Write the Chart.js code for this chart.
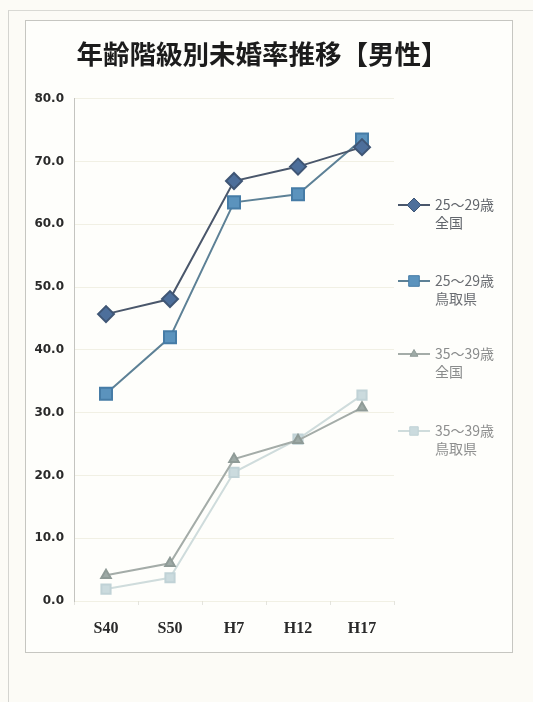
<!DOCTYPE html>
<html lang="ja">
<head>
<meta charset="UTF-8" />
<title>年齢階級別未婚率推移【男性】</title>
<script src="https://cdn.jsdelivr.net/npm/chart.js"></script>
<style>
  html, body { margin: 0; padding: 0; }
  body { width: 533px; height: 702px; background: #fcfbf6; position: relative; overflow: hidden; }
  .scan-edge { position: absolute; left: 8px; top: 10px; right: 0; bottom: 0; border-left: 1px solid #d4d4d0; border-top: 1px solid #d9d9d4; }
  .frame { position: absolute; left: 25px; top: 20px; width: 486px; height: 631px; border: 1px solid #c6c6c1; background: #fefefb; }
  #chart { position: absolute; left: 12px; top: 21px; }
</style>
</head>
<body>
<div class="scan-edge"></div>
<div class="frame"></div>
<canvas id="chart" width="500" height="630"></canvas>

<script>
const years = ['S40', 'S50', 'H7', 'H12', 'H17'];
const yTicks = [0, 10, 20, 30, 40, 50, 60, 70, 80];

// 未婚率 (%)
const national2529 = [45.7, 48.1, 66.9, 69.2, 72.3];
const tottori2529 = [33.0, 42.0, 63.5, 64.8, 73.5];
const national3539 = [4.1, 6.0, 22.6, 25.6, 30.8];
const tottori3539 = [1.9, 3.7, 20.5, 25.8, 32.8];

const legendLines = [
  ['25～29歳', '全国'],
  ['25～29歳', '鳥取県'],
  ['35～39歳', '全国'],
  ['35～39歳', '鳥取県']
];

// legend drawn beside the plot: line + marker, two-line label
const sideLegend = {
  id: 'sideLegend',
  afterDraw(chart) {
    const ctx = chart.ctx;
    const x0 = chart.chartArea.right + 4;
    const rows = [184, 260, 333, 410];
    chart.data.datasets.forEach((ds, i) => {
      const y = rows[i];
      ctx.save();
      ctx.strokeStyle = ds.borderColor;
      ctx.lineWidth = 2;
      ctx.beginPath();
      ctx.moveTo(x0, y);
      ctx.lineTo(x0 + 32, y);
      ctx.stroke();

      ctx.fillStyle = ds.pointBackgroundColor;
      ctx.strokeStyle = ds.pointBorderColor;
      ctx.lineWidth = 1;
      Chart.helpers.drawPoint(ctx, {
        pointStyle: ds.pointStyle,
        radius: ds.legendRadius,
        borderWidth: 1
      }, x0 + 16, y);

      ctx.fillStyle = ds.legendText;
      ctx.font = '14px "Noto Sans CJK JP"';
      ctx.textBaseline = 'middle';
      ctx.textAlign = 'left';
      ctx.fillText(legendLines[i][0], x0 + 37, y);
      ctx.fillText(legendLines[i][1], x0 + 37, y + 18);
      ctx.restore();
    });
  }
};

new Chart(document.getElementById('chart'), {
  type: 'line',
  data: {
    labels: years,
    datasets: [
      {
        label: legendLines[0].join(' '),
        data: national2529,
        borderColor: '#4a576b',
        borderWidth: 2,
        pointStyle: 'rectRot',
        pointRadius: 8,
        legendRadius: 7,
        pointBackgroundColor: '#4d6f9b',
        pointBorderColor: '#3f5675',
        legendText: '#62666c'
      },
      {
        label: legendLines[1].join(' '),
        data: tottori2529,
        borderColor: '#5d8196',
        borderWidth: 2,
        pointStyle: 'rect',
        pointRadius: 8.5,
        legendRadius: 7.5,
        pointBackgroundColor: '#5b93bd',
        pointBorderColor: '#467ca6',
        legendText: '#6a6d72'
      },
      {
        label: legendLines[2].join(' '),
        data: national3539,
        borderColor: '#a4aca8',
        borderWidth: 2,
        pointStyle: 'triangle',
        pointRadius: 5.5,
        legendRadius: 4.5,
        pointBackgroundColor: '#9eaaa6',
        pointBorderColor: '#8f9b97',
        legendText: '#8a8c8c'
      },
      {
        label: legendLines[3].join(' '),
        data: tottori3539,
        borderColor: '#cfdcdc',
        borderWidth: 2,
        pointStyle: 'rect',
        pointRadius: 6.5,
        legendRadius: 6,
        pointBackgroundColor: '#cbdbde',
        pointBorderColor: '#c0d2d6',
        legendText: '#8e8f8f'
      }
    ]
  },
  options: {
    responsive: false,
    animation: false,
    devicePixelRatio: 1,
    layout: { padding: 0 },
    plugins: {
      legend: { display: false },
      tooltip: { enabled: false },
      title: {
        display: true,
        text: '年齢階級別未婚率推移【男性】',
        color: '#1c1c1c',
        font: { family: '"Noto Sans CJK JP"', size: 26.5, weight: 'bold', lineHeight: 1.2 },
        padding: { top: 17, bottom: 29 }
      }
    },
    scales: {
      x: {
        offset: true,
        grid: { display: true, drawOnChartArea: false, tickLength: 4, color: '#e4e4de', offset: true },
        border: { display: false },
        ticks: {
          color: '#2a2a2a',
          padding: 14,
          font: { family: '"Liberation Serif"', size: 16, weight: 'bold' }
        },
        afterFit(s) { s.height = 50; }
      },
      y: {
        min: 0,
        max: 80,
        afterBuildTicks(s) { s.ticks = yTicks.map(v => ({ value: v })); },
        grid: { color: 'rgba(228,226,206,0.5)', drawTicks: false },
        border: { display: true, color: '#c4c4c0', width: 1 },
        ticks: {
          color: '#2a2a2a',
          padding: 10,
          callback: v => v.toFixed(1),
          font: { family: '"DejaVu Sans"', size: 12, weight: 'bold' }
        },
        afterFit(s) { s.width = 62; }
      },
      side: {
        position: 'right',
        display: true,
        grid: { display: false },
        border: { display: false },
        ticks: { display: false },
        afterFit(s) { s.width = 118; }
      }
    }
  },
  plugins: [sideLegend]
});
</script>
</body>
</html>
